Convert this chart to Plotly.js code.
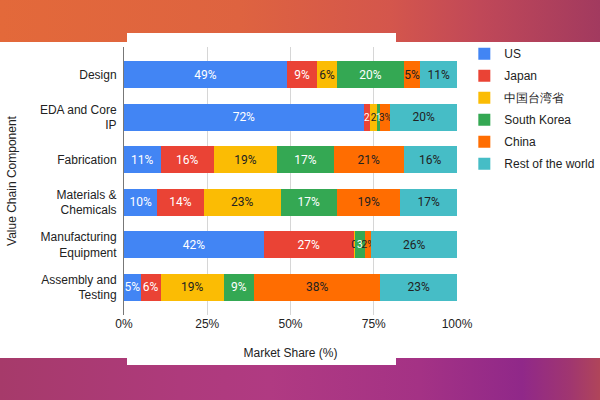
<!DOCTYPE html>
<html>
<head>
<meta charset="utf-8">
<script src="https://cdn.plot.ly/plotly-3.0.1.min.js"></script>
<style>
  html, body { margin: 0; padding: 0; background: #ffffff; width: 600px; height: 400px; overflow: hidden; }
  #bgTop { position: absolute; left: 0; top: 0; width: 600px; height: 42px;
    background: linear-gradient(to right, #E3693A 0%, #DE6340 40%, #D4564C 65%, #C04858 80%, #A23A5F 100%); }
  #tabTop { position: absolute; left: 127px; top: 33px; width: 269px; height: 9px; background: #ffffff; }
  #bgBot { position: absolute; left: 0; top: 358px; width: 600px; height: 42px;
    background: linear-gradient(to right, #A63A6A 0%, #AE3A7C 30%, #B03A82 45%, #A43285 70%, #902889 87%, #A03670 95%, #B0455A 100%); }
  #tabBot { position: absolute; left: 127px; top: 358px; width: 269px; height: 7px; background: #ffffff; }
  #chart { position: absolute; left: 0; top: 0; width: 600px; height: 400px; }
</style>
</head>
<body>
<div id="bgTop"></div><div id="tabTop"></div>
<div id="bgBot"></div><div id="tabBot"></div>
<div id="chart"></div>
<script>
// ---- data ----
const categories = ["Design", "EDA and Core<br>IP", "Fabrication", "Materials &<br>Chemicals", "Manufacturing<br>Equipment", "Assembly and<br>Testing"];
const seriesNames = ["US", "Japan", "中国台湾省", "South Korea", "China", "Rest of the world"];
const usValues      = [49, 72, 11, 10, 42, 5];
const japanValues   = [9, 2, 16, 14, 27, 6];
const taiwanValues  = [6, 2, 19, 23, 0.3, 19];
const koreaValues   = [20, 1, 17, 17, 3, 9];
const chinaValues   = [5, 3, 21, 19, 2, 38];
const restValues    = [11, 20, 16, 17, 25.7, 23];
// labels as shown (small segments are truncated in the original)
const usLabels      = ["49%", "72%", "11%", "10%", "42%", "5%"];
const japanLabels   = ["9%", "2", "16%", "14%", "27%", "6%"];
const taiwanLabels  = ["6%", "2", "19%", "23%", "0", "19%"];
const koreaLabels   = ["20%", "1", "17%", "17%", "3", "9%"];
const chinaLabels   = ["5%", "3%", "21%", "19%", "2%", "38%"];
const restLabels    = ["11%", "20%", "16%", "17%", "26%", "23%"];
const xTicks = [0, 25, 50, 75, 100];
const xTickLabels = ["0%", "25%", "50%", "75%", "100%"];

const colors = ["#4285F4", "#EA4335", "#FBBC04", "#34A853", "#FF6D01", "#46BDC6"];
const textColors = ["#ffffff", "#ffffff", "#222222", "#ffffff", "#222222", "#222222"];
const values = [usValues, japanValues, taiwanValues, koreaValues, chinaValues, restValues];
const labels = [usLabels, japanLabels, taiwanLabels, koreaLabels, chinaLabels, restLabels];

const traces = seriesNames.map((name, i) => ({
  type: "bar",
  orientation: "h",
  name: name,
  y: categories,
  x: values[i],
  text: labels[i],
  textposition: "inside",
  insidetextanchor: "middle",
  textangle: 0,
  constraintext: "none",
  cliponaxis: false,
  textfont: {
    family: "Roboto, 'Liberation Sans', Arial, sans-serif",
    size: values[i].map(v => (v < 4 ? 10 : 12)),
    color: textColors[i]
  },
  marker: { color: colors[i], line: { width: 0 } },
  legendgroup: "g" + i,
  hoverinfo: "none"
}));

const layout = {
  width: 600,
  height: 400,
  barmode: "stack",
  bargap: 0.365,
  paper_bgcolor: "rgba(0,0,0,0)",
  plot_bgcolor: "#ffffff",
  margin: { l: 124, r: 143, t: 47, b: 85, autoexpand: false },
  font: { family: "'Liberation Sans', Arial, sans-serif", size: 12, color: "#222222" },
  xaxis: {
    range: [0, 100],
    tickvals: xTicks,
    ticktext: xTickLabels,
    showgrid: true,
    gridcolor: "#d6d6d6",
    gridwidth: 1,
    zeroline: false,
    showline: false,
    ticks: "",
    tickfont: { size: 12, color: "#222222" },
    title: { text: "Market Share (%)", font: { size: 12, color: "#222222" }, standoff: 18 },
    fixedrange: true
  },
  yaxis: {
    type: "category",
    categoryorder: "array",
    categoryarray: categories,
    range: [5.65, -0.65],
    showgrid: false,
    zeroline: false,
    showline: true,
    linecolor: "#777777",
    linewidth: 1,
    ticks: "",
    ticklabelstandoff: 4,
    tickfont: { size: 12, color: "#222222" },
    title: { text: "Value Chain Component", font: { size: 12, color: "#222222" }, standoff: 20 },
    fixedrange: true
  },
  showlegend: true,
  legend: {
    x: 1.022,
    xanchor: "left",
    y: 1.029,
    yanchor: "top",
    bgcolor: "rgba(0,0,0,0)",
    traceorder: "grouped",
    tracegroupgap: 3,
    itemwidth: 30,
    font: { size: 12, color: "#222222" }
  }
};

Plotly.newPlot("chart", traces, layout, { displayModeBar: false, staticPlot: true });
</script>
</body>
</html>
